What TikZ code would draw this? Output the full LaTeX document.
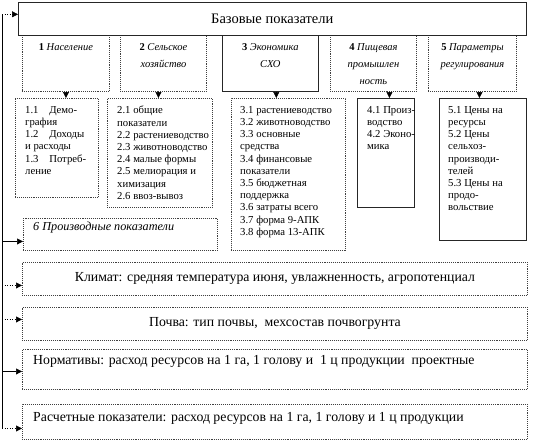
\documentclass[tikz,border=0pt]{standalone}
\usepackage{fontspec}
\setmainfont{Liberation Serif}
\usetikzlibrary{positioning,arrows.meta}

\tikzset{
  dotbox/.style={draw=black!75, densely dotted, line width=0.9pt, fill=white, inner sep=0pt, anchor=north west},
  solbox/.style={draw=black!85, line width=0.6pt, fill=white, inner sep=0pt, anchor=north west},
  cattext/.style={font=\fontsize{10.5}{17}\selectfont, align=center, inner sep=0pt},
  subtext/.style={font=\fontsize{10.7}{12.2}\selectfont, align=left, inner sep=0pt},
  bigtext/.style={font=\fontsize{13.8}{15}\selectfont, inner sep=0pt},
  arr/.style={-{Triangle[length=6pt,width=6pt]}, line width=0.5pt},
}

\begin{document}
\begin{tikzpicture}[x=1pt,y=-1pt]
\useasboundingbox (0,0) rectangle (545,447);

% Разделы
\node[dotbox, minimum width=87, minimum height=56] (c1) at (22,35) {};
\node[dotbox, minimum width=86, minimum height=56] (c2) at (120,35) {};
\node[solbox, minimum width=96, minimum height=56] (c3) at (222,35) {};
\node[dotbox, minimum width=86, minimum height=56] (c4) at (330,35) {};
\node[dotbox, minimum width=88, minimum height=56] (c5) at (428,35) {};

\node[cattext, below=8pt of c1.north] (t1) {\textbf{1} \textit{Население}};
\node[cattext, below=8pt of c2.north] (t2) {\textbf{2} \textit{Сельское}\\\textit{хозяйство}};
\node[cattext, below=8pt of c3.north] (t3) {\textbf{3} \textit{Экономика}\\\textit{СХО}};
\node[cattext, below=8pt of c4.north] (t4) {\textbf{4} \textit{Пищевая}\\\textit{промышлен}\\\textit{ность}};
\node[cattext, below=8pt of c5.north] (t5) {\textbf{5} \textit{Параметры}\\\textit{регулирования}};

% Базовые показатели
\node[solbox, minimum width=508, minimum height=33] (top) at (18,2) {};
\node[font=\fontsize{14.5}{16}\selectfont, inner sep=0pt] (ttop) at (top) {Базовые показатели};

% Подразделы
\node[dotbox, minimum width=83, minimum height=99] (s1) at (15,98) {};
\node[dotbox, minimum width=105, minimum height=109] (s2) at (107,98) {};
\node[dotbox, minimum width=114, minimum height=152] (s3) at (231,98) {};
\node[solbox, minimum width=57, minimum height=109] (s4) at (357,98) {};
\node[solbox, minimum width=87, minimum height=142] (s5) at (439,98) {};

\node[subtext, below right=8pt and 10pt of s1.north west] (u1)
  {1.1\quad Демо-\\графия\\1.2\quad Доходы\\и расходы\\1.3\quad Потреб-\\ление};
\node[subtext, below right=8pt and 10pt of s2.north west] (u2)
  {2.1 общие\\показатели\\2.2 растениеводство\\2.3 животноводство\\2.4 малые формы\\2.5 мелиорация и\\химизация\\2.6 ввоз-вывоз};
\node[subtext, below right=8pt and 9pt of s3.north west] (u3)
  {3.1 растениеводство\\3.2 животноводство\\3.3 основные\\средства\\3.4 финансовые\\показатели\\3.5 бюджетная\\поддержка\\3.6 затраты всего\\3.7 форма 9-АПК\\3.8 форма 13-АПК};
\node[subtext, below right=8pt and 10pt of s4.north west] (u4)
  {4.1 Произ-\\водство\\4.2 Эконо-\\мика};
\node[subtext, below right=8pt and 9pt of s5.north west] (u5)
  {5.1 Цены на\\ресурсы\\5.2 Цены\\сельхоз-\\производи-\\телей\\5.3 Цены на\\продо-\\вольствие};

\foreach \c/\s/\dx in {c1/s1/0, c2/s2/-5, c3/s3/6, c4/s4/16, c5/s5/7} {
  \coordinate (a-\c) at ([xshift=\dx pt]\c.south);
  \draw[arr] (a-\c) -- (a-\c |- \s.north);
}

% Производные и прочие
\node[dotbox, minimum width=194, minimum height=32] (d6) at (23,218) {};
\node[subtext, font=\fontsize{12.2}{14}\selectfont, below right=4pt and 10pt of d6.north west] (u6) {\textit{6 Производные показатели}};

\node[dotbox, minimum width=505, minimum height=33] (k1) at (22,262) {};
\node[dotbox, minimum width=505, minimum height=33] (k2) at (22,307) {};
\node[dotbox, minimum width=505, minimum height=40] (k3) at (22,349) {};
\node[dotbox, minimum width=505, minimum height=35] (k4) at (22,404) {};

\node[bigtext] (v1) at (k1) {Климат: средняя температура июня, увлажненность, агропотенциал};
\node[bigtext] (v2) at (k2) {Почва: тип почвы,\ \ мехсостав почвогрунта};
\node[bigtext, below right=6pt and 11pt of k3.north west] (v3)
  {Нормативы: расход ресурсов на 1 га, 1 голову и\ \ 1 ц продукции\ \ проектные};
\node[bigtext, below right=8pt and 11pt of k4.north west] (v4)
  {Расчетные показатели: расход ресурсов на 1 га, 1 голову и 1 ц продукции};

% Левая линия
\coordinate (trunk) at (2,0);
\foreach \n/\dy/\ls in {top/4.5/dotted, d6/-7/solid, k1/-6.5/dotted, k2/4.5/dotted, k3/-2/solid, k4/-6.5/dotted} {
  \coordinate (in-\n) at ([yshift=\dy pt]\n.west);
  \draw[arr, \ls] (in-\n -| trunk) -- (in-\n);
}
\draw (in-top -| trunk) -- (in-k4 -| trunk);
\end{tikzpicture}
\end{document}
